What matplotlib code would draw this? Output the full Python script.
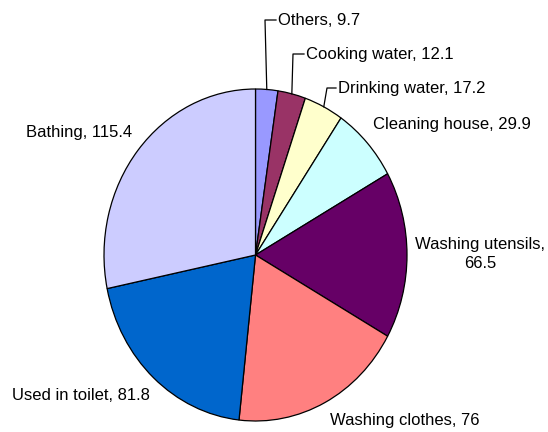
import numpy as np
import matplotlib
matplotlib.use("Agg")
import matplotlib.pyplot as plt

plt.rcParams["font.family"] = ["Liberation Sans", "DejaVu Sans"]

categories = ["Others", "Cooking water", "Drinking water", "Cleaning house",
              "Washing utensils", "Washing clothes", "Used in toilet", "Bathing"]
values = [9.7, 12.1, 17.2, 29.9, 66.5, 76, 81.8, 115.4]
colors = ["#9999FF", "#993366", "#FFFFCC", "#CCFFFF",
          "#660066", "#FF8080", "#0066CC", "#CCCCFF"]

W, H = 548, 432
CX, CY, RX, RY = 255.5, 255.0, 151.5, 166.0   # pie box in pixels (top-left origin)


def px(x, y):
    # pixel position -> pie data coordinates (pie radius = 1)
    return (x - CX) / RX, (CY - y) / RY


fig = plt.figure(figsize=(W / 100, H / 100), dpi=100)
ax = fig.add_axes([(CX - RX) / W, (H - CY - RY) / H, 2 * RX / W, 2 * RY / H])
ax.pie(values, colors=colors, startangle=90, counterclock=False, radius=1,
       wedgeprops=dict(edgecolor="black", linewidth=0.9))
ax.set_aspect("auto")
ax.set_xlim(-1, 1)
ax.set_ylim(-1, 1)
ax.axis("off")

# label anchors (left/center, pixel coords) and leader elbows for the small slices
labels = {
    "Others":           dict(pos=(278, 20), ha="left", elbow=(265, 20)),
    "Cooking water":    dict(pos=(306, 54), ha="left", elbow=(293, 54)),
    "Drinking water":   dict(pos=(338, 88), ha="left", elbow=(327, 88)),
    "Cleaning house":   dict(pos=(373, 124), ha="left"),
    "Washing utensils": dict(pos=(480, 254), ha="center", wrap=True),
    "Washing clothes":  dict(pos=(330, 421), ha="left"),
    "Used in toilet":   dict(pos=(12, 395), ha="left"),
    "Bathing":          dict(pos=(26, 132), ha="left"),
}

total = sum(values)
start = 0.0
for name, v in zip(categories, values):
    spec = labels[name]
    mid = np.radians((start + v / 2) / total * 360)
    start += v
    sep = ",\n" if spec.get("wrap") else ", "
    tx, ty = px(*spec["pos"])
    ax.text(tx, ty, f"{name}{sep}{v:g}", ha=spec["ha"], va="center",
            fontsize=12, color="black", clip_on=False, linespacing=1.4,
            multialignment="center")
    if "elbow" in spec:
        ex, ey = px(*spec["elbow"])
        lx, _ = px(spec["pos"][0] - 2, spec["pos"][1])
        ax.plot([np.sin(mid), ex, lx], [np.cos(mid), ey, ey], color="black",
                lw=0.9, clip_on=False)

fig.savefig("out.png", dpi=100)
